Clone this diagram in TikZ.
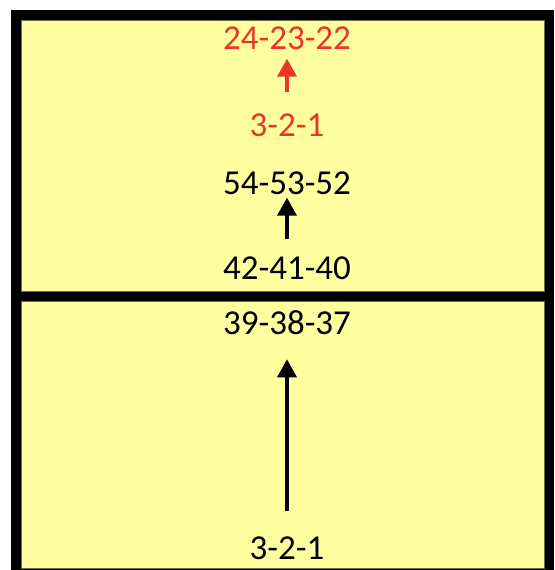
\documentclass[tikz,border=0pt]{standalone}
\usepackage{fontspec}
\setmainfont{Carlito}
\usetikzlibrary{arrows.meta}

\definecolor{cellyellow}{RGB}{255,255,160}
\definecolor{celledge}{RGB}{110,110,70}
\definecolor{seqred}{RGB}{238,52,40}

\tikzset{
  seq/.style={inner sep=0pt, font=\fontsize{35}{38}\selectfont},
  cell/.style={fill=cellyellow, draw=celledge, line width=0.8pt},
  up/.style={-{Triangle[width=19pt,length=18pt]}, line width=3.6pt},
}

\begin{document}
\begin{tikzpicture}[x=1pt, y=-1pt]
\useasboundingbox (0,0) rectangle (554,570);

% Frame
\fill[black] (11,10) rectangle (554,570);
\draw[cell] (21,20) rectangle (544,291);
\draw[cell] (21,301) rectangle (544,568);

% Upper cell
\node[seq, text=seqred] (redtop) at (287,38) {24-23-22};
\node[seq, text=seqred] (redlow) at (287,125) {3-2-1};
\node[seq] (blktop) at (287,183) {54-53-52};
\node[seq] (blklow) at (287,268) {42-41-40};

\draw[up, seqred, shorten <=21pt, shorten >=9pt] (redlow) -- (redtop);
\draw[up, shorten <=17pt, shorten >=3pt] (blklow) -- (blktop);

% Lower cell
\node[seq] (bottop) at (287,323) {39-38-37};
\node[seq] (botlow) at (287,548) {3-2-1};

\draw[up, shorten <=25pt, shorten >=24pt] (botlow) -- (bottop);
\end{tikzpicture}
\end{document}
